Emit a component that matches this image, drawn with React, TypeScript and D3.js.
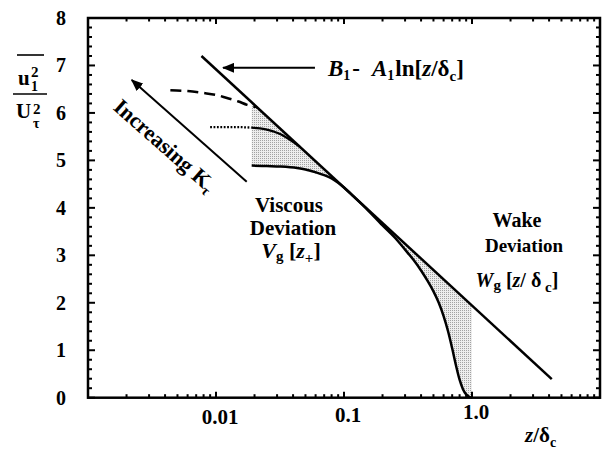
import React from "react";
import * as d3 from "d3";

// ---------- data ----------
// straight law line  B1 - A1 ln[z/δc]  : two end points (z, u²/Uτ²)
const lawLine: [number, number][] = [
  [0.0077, 7.2],
  [4.2, 0.39],
];
// dashed curve (highest Kτ)
const dashedCurve: [number, number][] = [
  [0.0044, 6.48], [0.006, 6.46], [0.008, 6.42], [0.01, 6.38], [0.012, 6.32],
  [0.015, 6.24], [0.0175, 6.17], [0.021, 6.12],
];
// dotted part of middle curve
const middleDotted: [number, number][] = [
  [0.009, 5.7], [0.012, 5.7], [0.015, 5.7], [0.019, 5.69],
];
// solid part of middle curve
const middleSolid: [number, number][] = [
  [0.019, 5.69], [0.024, 5.66], [0.028, 5.61], [0.032, 5.55], [0.036, 5.47],
  [0.041, 5.37], [0.045, 5.29],
];
// lowest curve, incl. wake deviation
const lowCurve: [number, number][] = [
  [0.019, 4.89], [0.025, 4.88], [0.032, 4.87], [0.043, 4.84], [0.05, 4.81],
  [0.06, 4.75], [0.07, 4.69], [0.08, 4.62], [0.09, 4.53], [0.1, 4.43],
  [0.12, 4.23], [0.15, 3.98], [0.2, 3.63], [0.25, 3.37], [0.3, 3.12],
  [0.35, 2.9], [0.4, 2.68], [0.45, 2.46], [0.5, 2.24], [0.55, 2.0],
  [0.6, 1.72], [0.65, 1.4], [0.7, 1.04], [0.75, 0.68], [0.8, 0.38],
  [0.85, 0.18], [0.9, 0.07], [0.95, 0.02], [1.0, 0],
];
const yTicks = [0, 1, 2, 3, 4, 5, 6, 7, 8];
const xTickLabels: [number, string][] = [
  [0.01, "0.01"],
  [0.1, "0.1"],
  [1, "1.0"],
];
// annotation anchors in data units
const lawArrow: [number, number][] = [
  [0.0593, 6.95],
  [0.01135, 6.95],
];

// ---------- layout ----------
const W = 605;
const H = 453;
const L = 88, R = 600, T = 18, B = 397.7;
const FONT = "'Liberation Serif', 'Times New Roman', serif";

const x = d3.scaleLog().domain([0.001, 10]).range([L, R]);
const y = d3.scaleLinear().domain([0, 8]).range([B, T]);

// log-linear interpolation along the straight law line
const lawAt = (z: number) => {
  const [a, b] = lawLine;
  const t = (Math.log10(z) - Math.log10(a[0])) / (Math.log10(b[0]) - Math.log10(a[0]));
  return a[1] + t * (b[1] - a[1]);
};

const line = d3
  .line<[number, number]>()
  .x((d) => x(d[0]))
  .y((d) => y(d[1]))
  .curve(d3.curveMonotoneX);

const straight = d3
  .line<[number, number]>()
  .x((d) => x(d[0]))
  .y((d) => y(d[1]));

const shade = d3
  .area<[number, number]>()
  .x((d) => x(d[0]))
  .y0((d) => y(d[1]))
  .y1((d) => y(lawAt(d[0])))
  .curve(d3.curveMonotoneX);

export default function App() {
  const minorY = d3.range(0, 8.001, 0.2).filter((v) => Math.abs(v - Math.round(v)) > 1e-6);
  const majorX = [0.01, 0.1, 1];
  const minorX: number[] = [];
  [0.001, 0.01, 0.1, 1].forEach((d) => {
    for (let k = 2; k <= 9; k++) minorX.push(d * k);
  });

  const incHead: [number, number] = [131.7, 80];
  const incTail: [number, number] = [246.7, 181.7];
  const ang = (Math.atan2(incTail[1] - incHead[1], incTail[0] - incHead[0]) * 180) / Math.PI;

  return (
    <svg
      width={W}
      height={H}
      viewBox={`0 0 ${W} ${H}`}
      style={{ position: "absolute", left: 0, top: 0, background: "#fff" }}
      fontFamily={FONT}
      fontWeight="bold"
    >
      <defs>
        <marker id="ah" viewBox="0 0 12 10" refX="11" refY="5" markerWidth="12" markerHeight="10" markerUnits="userSpaceOnUse" orient="auto">
          <path d="M0,0 L12,5 L0,10 z" fill="#000" />
        </marker>
        <pattern id="stip" width="2" height="2" patternUnits="userSpaceOnUse">
          <rect width="2" height="2" fill="#ededed" />
          <rect width="1" height="1" fill="#a2a2a2" />
        </pattern>
      </defs>

      {/* shaded deviations */}
      <path d={shade(lowCurve) || ""} fill="url(#stip)" stroke="none" />

      {/* curves */}
      <path d={straight(lawLine) || ""} fill="none" stroke="#000" strokeWidth={2.5} />
      <path d={line(dashedCurve) || ""} fill="none" stroke="#000" strokeWidth={2.5} strokeDasharray="11,6" />
      <path d={line(middleDotted) || ""} fill="none" stroke="#000" strokeWidth={2.3} strokeDasharray="1.8,1.6" />
      <path d={line(middleSolid) || ""} fill="none" stroke="#000" strokeWidth={2.3} />
      <path d={line(lowCurve) || ""} fill="none" stroke="#000" strokeWidth={2.5} />

      {/* frame */}
      <rect x={L} y={T} width={R - L} height={B - T} fill="none" stroke="#000" strokeWidth={2.5} />

      {/* y ticks */}
      {yTicks.map((v) => (
        <g key={"yt" + v}>
          <line x1={L} x2={L + 7} y1={y(v)} y2={y(v)} stroke="#000" strokeWidth={2} />
          <line x1={R} x2={R - 7} y1={y(v)} y2={y(v)} stroke="#000" strokeWidth={2} />
          <text x={66} y={y(v)} dy="0.35em" textAnchor="end" fontSize={20}>
            {v}
          </text>
        </g>
      ))}
      {minorY.map((v) => (
        <g key={"ym" + v}>
          <line x1={L} x2={L + 4} y1={y(v)} y2={y(v)} stroke="#000" strokeWidth={2} />
          <line x1={R} x2={R - 4} y1={y(v)} y2={y(v)} stroke="#000" strokeWidth={2} />
        </g>
      ))}

      {/* x ticks */}
      {majorX.map((v) => (
        <g key={"xt" + v}>
          <line x1={x(v)} x2={x(v)} y1={B} y2={B - 6} stroke="#000" strokeWidth={2} />
          <line x1={x(v)} x2={x(v)} y1={T} y2={T + 6} stroke="#000" strokeWidth={2} />
        </g>
      ))}
      {minorX.map((v) => (
        <g key={"xm" + v}>
          <line x1={x(v)} x2={x(v)} y1={B} y2={B - 3.5} stroke="#000" strokeWidth={2} />
          <line x1={x(v)} x2={x(v)} y1={T} y2={T + 3.5} stroke="#000" strokeWidth={2} />
        </g>
      ))}
      {xTickLabels.map(([v, s], i) => (
        <text key={"xl" + v} x={x(v) + 4} y={424 - i * 2.5} textAnchor="middle" fontSize={21}>
          {s}
        </text>
      ))}

      {/* x axis title */}
      <text x={525} y={442} fontSize={21}>
        <tspan fontStyle="italic">z</tspan>
        <tspan>/δ</tspan>
        <tspan fontSize={14} dy={5}>c</tspan>
      </text>

      {/* y axis title (fraction) */}
      <g>
        <line x1={17} x2={44} y1={55} y2={55} stroke="#000" strokeWidth={1.6} />
        <text x={18} y={85} fontSize={21}>u</text>
        <text x={31} y={91} fontSize={14}>1</text>
        <text x={31} y={77} fontSize={15}>2</text>
        <line x1={13} x2={47} y1={94} y2={94} stroke="#000" strokeWidth={1.6} />
        <text x={16} y={118} fontSize={21}>U</text>
        <text x={33} y={114} fontSize={15}>2</text>
        <text x={33} y={128} fontSize={14}>τ</text>
      </g>

      {/* law label with arrow */}
      <path d={straight(lawArrow) || ""} stroke="#000" strokeWidth={2} fill="none" markerEnd="url(#ah)" />
      <text x={328} y={76} fontSize={23}>
        <tspan fontStyle="italic">B</tspan>
        <tspan fontSize={14} dy={4}>1</tspan>
        <tspan dy={-4} dx={2}>-</tspan>
        <tspan fontStyle="italic" dx={12}>A</tspan>
        <tspan fontSize={14} dy={4}>1</tspan>
        <tspan dy={-4} dx={1}>ln[</tspan>
        <tspan fontStyle="italic">z</tspan>
        <tspan>/δ</tspan>
        <tspan fontSize={15} dy={5}>c</tspan>
        <tspan dy={-5}>]</tspan>
      </text>

      {/* Increasing Kτ */}
      <line x1={incTail[0]} y1={incTail[1]} x2={incHead[0]} y2={incHead[1]} stroke="#000" strokeWidth={2} markerEnd="url(#ah)" />
      <text transform={`translate(160,151) rotate(${ang})`} textAnchor="middle" fontSize={22}>
        <tspan>Increasing K</tspan>
        <tspan fontSize={14} dy={4}>τ</tspan>
      </text>

      {/* Viscous deviation */}
      <text x={289} y={211.7} textAnchor="middle" fontSize={21}>Viscous</text>
      <text x={293} y={235} textAnchor="middle" fontSize={21}>Deviation</text>
      <text x={291} y={258.3} textAnchor="middle" fontSize={22}>
        <tspan fontStyle="italic">V</tspan>
        <tspan fontSize={15} dy={3}>g</tspan>
        <tspan dy={-3}>{" ["}</tspan>
        <tspan fontStyle="italic">z</tspan>
        <tspan fontSize={15} dy={5}>+</tspan>
        <tspan dy={-5}>]</tspan>
      </text>

      {/* Wake deviation */}
      <text x={517} y={226.7} textAnchor="middle" fontSize={20}>Wake</text>
      <text x={524} y={251.7} textAnchor="middle" fontSize={19}>Deviation</text>
      <text x={517} y={286.7} textAnchor="middle" fontSize={20}>
        <tspan fontStyle="italic">W</tspan>
        <tspan fontSize={15} dy={3}>g</tspan>
        <tspan dy={-3}>{" ["}</tspan>
        <tspan fontStyle="italic">z</tspan>
        <tspan>/ δ</tspan>
        <tspan fontSize={15} dy={5}> c</tspan>
        <tspan dy={-5}>]</tspan>
      </text>
    </svg>
  );
}
